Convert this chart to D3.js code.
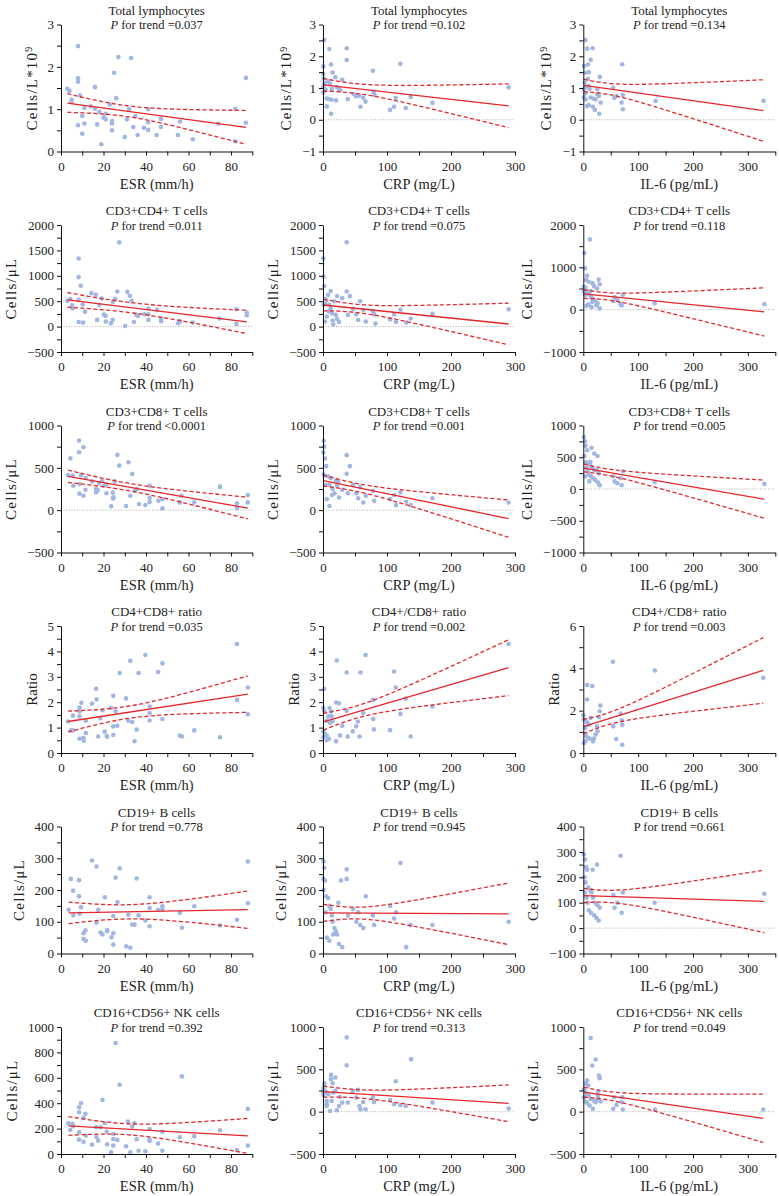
<!DOCTYPE html>
<html>
<head>
<meta charset="utf-8">
<script src="https://cdn.jsdelivr.net/npm/d3@7"></script>
<style>
body { margin: 0; background: #fff; }
svg text { font-family: "Liberation Serif", "Times New Roman", serif; fill: #222; }
</style>
</head>
<body>
<svg id="chart" width="779" height="1196"></svg>
<script>
// ---- text ----
var rowTitles = [
  ["Total lymphocytes", "Total lymphocytes", "Total lymphocytes"],
  ["CD3+CD4+ T cells", "CD3+CD4+ T cells", "CD3+CD4+ T cells"],
  ["CD3+CD8+ T cells", "CD3+CD8+ T cells", "CD3+CD8+ T cells"],
  ["CD4+CD8+ ratio", "CD4+/CD8+ ratio", "CD4+/CD8+ ratio"],
  ["CD19+ B cells", "CD19+ B cells", "CD19+ B cells"],
  ["CD16+CD56+ NK cells", "CD16+CD56+ NK cells", "CD16+CD56+ NK cells"]
];
var pTrend = [
  ["=0.037", "=0.102", "=0.134"],
  ["=0.011", "=0.075", "=0.118"],
  ["<0.0001", "=0.001", "=0.005"],
  ["=0.035", "=0.002", "=0.003"],
  ["=0.778", "=0.945", "=0.661"],
  ["=0.392", "=0.313", "=0.049"]
];
var yTitles = ["Cells/L*10", "Cells/\u03bcL", "Cells/\u03bcL", "Ratio", "Cells/\u03bcL", "Cells/\u03bcL"];
var xTitles = ["ESR (mm/h)", "CRP (mg/L)", "IL-6 (pg/mL)"];

// ---- axes ----
var xDomains = [[0, 90], [0, 300], [0, 350]];
var xMajor = [20, 100, 100];
var yDomains = [
  [[0, 3], [-1, 3], [-1, 3]],
  [[-500, 2000], [-500, 2000], [-1000, 2000]],
  [[-500, 1000], [-500, 1000], [-1000, 1000]],
  [[0, 5], [0, 5], [0, 6]],
  [[0, 400], [0, 400], [-100, 400]],
  [[0, 1000], [-500, 1000], [-500, 1000]]
];
var yMajor = [[1, 1, 1], [500, 500, 1000], [500, 500, 500], [1, 1, 2], [100, 100, 100], [200, 500, 500]];

// ---- points [x, y] ----
var ptsLymphEsr = [[3,1.48],[4,1.43],[5,1.22],[5,1.17],[8,2.49],[8,1.73],[8,1.69],[8,1.65],[8,0.62],[9,1.32],[10,0.84],[10,0.42],[11,1.03],[11,0.66],[14,1.07],[16,1.52],[16,1.01],[17,0.64],[18,0.94],[19,0.17],[20,0.8],[21,0.76],[21,0.89],[23,1.11],[24,0.72],[24,0.66],[24,0.5],[25,1.86],[26,1.26],[27,2.23],[30,0.34],[31,0.76],[32,1.0],[33,2.21],[34,0.58],[35,0.84],[36,0.39],[39,0.56],[41,1.0],[41,0.69],[41,0.51],[45,0.39],[47,0.77],[47,0.58],[55,0.39],[56,0.71],[62,0.29],[74,0.66],[82,1.01],[82,0.24],[87,1.74],[87,0.68]];
var ptsLymphCrp = [[2,2.51],[10,2.23],[0.5,1.68],[12.6,1.74],[15,1.49],[0.5,1.45],[19.4,1.34],[30,1.26],[37,2.25],[37,1.88],[3,1.16],[8.4,1.21],[11,1.14],[0.5,1.03],[0.5,0.86],[13.6,0.97],[21.5,1.03],[25,0.97],[26.7,0.93],[5.8,0.67],[9.4,0.65],[13.6,0.63],[20.4,0.61],[5.8,0.42],[12.6,0.19],[38.7,0.65],[47.6,0.81],[51.8,0.74],[56.5,0.76],[58.6,0.41],[62.8,0.69],[66.5,0.57],[78,1.54],[79,0.86],[80.6,0.78],[104.7,0.31],[111,0.41],[113.6,0.69],[121,1.76],[129.3,0.37],[137,0.72],[171,0.53],[290,1.02],[1,1.3],[2,1.12],[4,0.95]];
var ptsLymphIl6 = [[4,2.51],[7,2.24],[1,1.69],[8.5,1.74],[17,2.25],[13.4,1.89],[10,1.5],[8.5,1.29],[30,1.35],[3,1.48],[2.4,1.17],[4,1.04],[1,0.96],[4,0.83],[1,0.7],[4,0.64],[9,1.06],[11.5,0.98],[7,0.43],[10,0.46],[13.4,0.7],[17.6,0.41],[21,0.31],[19.4,0.66],[22.5,0.64],[25.5,0.96],[25.5,0.8],[28.5,0.75],[29,0.19],[31.6,0.54],[54.6,1.01],[56.5,0.69],[60.7,0.75],[69.8,0.54],[71,1.75],[72,0.78],[72,0.33],[131.8,0.59],[328.5,0.6]];

var ptsCd4Esr = [[3,507],[4.4,540],[5.2,421],[5.4,355],[8.3,1342],[8.3,974],[8.3,526],[8.3,92],[9.3,803],[10.2,434],[10.4,79],[11.3,290],[14.3,658],[16.4,625],[17,132],[18,428],[19.2,553],[20.2,237],[21,210],[21.1,99],[23.5,66],[24.3,132],[24.4,487],[25.5,546],[26.5,691],[27.4,1658],[30.2,13],[31.2,684],[32.4,605],[33.2,507],[34.3,92],[35.3,237],[36.2,211],[39.2,243],[41.1,355],[41.1,243],[41.1,132],[45.2,329],[47.1,158],[47.1,105],[55.1,66],[56,105],[62,79],[74.5,158],[82.5,342],[82.5,53],[87.4,276],[87.4,224]];
var ptsCd4Crp = [[0.5,1340],[1,980],[2,800],[3,540],[5,520],[1,430],[8,620],[10,430],[12,355],[12,700],[14,260],[15,120],[18,500],[20,230],[22,150],[25,90],[30,560],[37,1660],[37,690],[39,230],[42,600],[47,350],[52,240],[55,130],[58,500],[63,330],[67,100],[78,300],[80,240],[82,60],[105,140],[111,240],[114,90],[121,330],[130,80],[137,160],[171,250],[290,340],[3,100],[6,200],[9,300],[4,440],[16,40],[22,600]];
var ptsCd4Il6 = [[2,1340],[12,1660],[3,980],[7,800],[5,700],[10,660],[17,620],[20,550],[25,500],[28,710],[30,600],[1,540],[4,520],[8,430],[11,360],[14,300],[18,250],[22,200],[26,150],[9,120],[6,90],[15,60],[30,30],[1,430],[3,350],[13,440],[16,180],[24,100],[55,200],[57,300],[62,240],[68,130],[70,100],[72,350],[130,150],[330,130]];

var ptsCd8Esr = [[3.3,416],[4.4,613],[5.5,408],[5.8,289],[8.5,822],[8.5,684],[8.7,309],[8.7,195],[9.4,412],[10.6,743],[10.6,171],[11.5,242],[11.6,380],[14.6,340],[16.5,211],[16.5,250],[17.3,238],[18,320],[19.4,348],[20.3,289],[21.3,305],[21.4,199],[23.6,45],[24.4,207],[24.5,139],[24.7,151],[25.3,340],[26.5,653],[27.4,526],[30.6,49],[31.7,566],[32.6,171],[33.5,428],[34.8,230],[35.7,250],[36.7,72],[39.7,61],[41.7,289],[41.7,143],[41.7,95],[45.8,111],[47.7,21],[47.7,130],[55.9,92],[56.7,171],[62.7,92],[74.8,278],[82.8,80],[82.8,25],[87.9,179],[87.9,92]];
var ptsCd8Crp = [[1,820],[2,750],[0.5,680],[3,610],[5,520],[1,420],[2,410],[8,400],[10,300],[12,380],[15,250],[18,200],[20,350],[22,290],[25,150],[30,240],[37,650],[37,430],[39,200],[42,520],[47,300],[52,200],[55,140],[58,270],[63,90],[67,170],[78,230],[80,110],[105,130],[111,180],[114,60],[121,210],[130,100],[137,60],[171,140],[290,90],[6,130],[10,50],[14,180],[24,330],[4,300]];
var ptsCd8Il6 = [[1,820],[3,750],[4,680],[7,610],[2,520],[5,420],[9,400],[12,380],[16,340],[20,300],[25,290],[28,250],[10,230],[14,200],[18,170],[22,140],[27,100],[30,60],[6,330],[8,280],[3,200],[11,120],[55,200],[57,120],[62,90],[68,170],[70,60],[72,280],[130,110],[330,80],[15,650],[20,560],[26,520],[13,430]];

var ptsRatioEsr = [[3.3,1.24],[4.7,0.89],[5.6,1.47],[5.6,0.89],[8.7,1.79],[8.7,1.64],[8.7,1.44],[8.7,0.56],[9.6,1.98],[10.5,0.6],[10.7,0.48],[11.7,1.27],[11.7,0.79],[14.6,1.95],[16.5,2.53],[16.7,2.11],[17.5,0.65],[18.5,1.37],[19.5,1.68],[20.6,0.84],[21.5,0.67],[21.7,0.64],[23.6,1.77],[24.6,2.25],[24.6,1.05],[24.6,0.71],[25.7,1.64],[26.5,1.07],[27.6,3.15],[30.6,2.15],[31.7,1.27],[32.6,3.63],[33.5,1.22],[34.6,0.46],[35.6,0.92],[36.5,3.15],[39.7,3.86],[41.7,1.83],[41.7,1.57],[41.7,1.28],[45.7,3.19],[47.7,3.53],[47.7,1.34],[55.9,0.69],[56.9,0.65],[62.7,0.89],[74.8,0.62],[82.8,4.29],[82.8,2.09],[87.9,2.58],[87.9,1.53]];
var ptsRatioCrp = [[2,2.53],[0.5,1.77],[2,1.64],[0.5,0.85],[0.5,0.62],[3,0.75],[5.8,1.27],[8.4,1.44],[11,1.18],[10,1.77],[12.6,1.64],[13.6,1.44],[15,1.24],[5.8,0.69],[5.8,0.5],[9.4,0.56],[20.4,1.99],[21.5,3.64],[20.4,0.46],[25,1.96],[26.7,0.69],[30,1.07],[37,3.17],[37,1.66],[38.7,0.65],[46.6,0.85],[51.8,1.05],[54.5,1.24],[57,0.65],[58.6,3.17],[62.8,1.57],[66.5,3.86],[78,2.09],[78.5,1.34],[79.6,0.93],[104.7,0.9],[111,3.21],[113.6,2.58],[121,1.54],[129.3,2.14],[137,0.65],[171,1.83],[290,4.29]];
var ptsRatioIl6 = [[0,1.78],[1,1.58],[3,1.18],[1,0.47],[4,0.55],[7,2.53],[7,3.21],[16.4,3.16],[7,1.45],[10,1.34],[5.5,0.79],[9,0.71],[11.5,0.68],[4,0.9],[13.4,1.66],[17.6,0.55],[19.4,0.68],[22.5,0.87],[26,1.03],[28.5,1.69],[29.8,1.97],[31,2.24],[25,1.26],[54,4.31],[54.6,1.26],[60,0.66],[68,1.86],[70,1.55],[71,1.34],[71,0.39],[130.5,3.9],[328,3.55]];

var ptsCd19Esr = [[3.6,138],[4.6,235],[5.7,198],[5.8,120],[8.5,231],[8.5,180],[8.7,125],[9.4,146],[10.6,64],[10.6,46],[11.5,73],[11.7,40],[14.6,293],[16.7,274],[16.7,97],[17.5,138],[18.6,66],[19.5,60],[20.6,177],[21.7,74],[21.7,70],[23.8,51],[24.6,118],[24.6,64],[24.6,28],[25.7,239],[26.6,162],[27.6,268],[30.7,23],[31.7,122],[32.6,18],[33.5,91],[34.6,91],[35.6,236],[36.5,120],[39.7,104],[41.7,177],[41.7,143],[41.7,86],[45.7,137],[47.7,149],[47.7,139],[55.9,128],[56.9,81],[62.7,149],[74.8,88],[82.8,106],[87.9,290],[87.9,158]];
var ptsCd19Crp = [[1,290],[2,270],[0.5,235],[3,230],[1,200],[5,180],[8,175],[10,150],[12,140],[14,120],[15,100],[18,80],[20,70],[22,60],[6,50],[10,40],[25,30],[30,20],[37,265],[37,235],[39,120],[47,140],[52,100],[55,130],[58,90],[63,80],[67,180],[78,120],[80,90],[105,150],[111,110],[114,130],[121,285],[130,20],[137,90],[171,90],[290,100],[4,130],[16,60],[24,160],[28,230]];
var ptsCd19Il6 = [[1,290],[3,270],[5,240],[7,230],[2,200],[4,180],[9,160],[12,150],[15,140],[18,120],[22,100],[26,90],[30,80],[10,70],[14,60],[20,50],[24,40],[28,30],[6,120],[8,100],[3,140],[55,130],[57,80],[62,100],[68,285],[70,60],[72,140],[130,100],[330,135],[17,230],[25,250]];

var ptsNkEsr = [[3.5,242],[4.4,189],[5.4,237],[5.7,218],[8.5,368],[8.5,329],[8.5,171],[8.5,113],[9.4,400],[10.6,284],[10.6,97],[11.5,316],[11.7,145],[14.6,74],[16.5,211],[16.7,134],[17.5,105],[18.6,211],[19.5,426],[20.6,242],[21.5,176],[21.7,76],[23.6,13],[24.6,158],[24.6,118],[24.6,66],[25.7,874],[26.5,111],[27.6,545],[30.6,61],[31.5,255],[32.6,13],[33.5,216],[34.6,242],[35.6,116],[36.5,26],[39.7,21],[41.7,197],[41.7,113],[41.7,103],[45.7,82],[47.7,176],[47.7,26],[55.9,132],[56.9,611],[62.7,139],[74.8,187],[82.8,32],[87.9,355],[87.9,66]];
var ptsNkCrp = [[37,877],[37,549],[137.7,620],[113.6,359],[12.6,434],[12.6,383],[19.4,403],[2,336],[2,312],[0.5,272],[0.5,225],[0.5,194],[3,245],[5.8,225],[5.8,126],[5.8,87],[5.8,67],[8.4,205],[11,8],[13.6,126],[15,336],[16,225],[19.4,245],[21.5,16],[25,67],[26.7,174],[30,107],[38.7,107],[46.6,245],[51.8,166],[54.5,257],[57,67],[58.6,28],[62.8,115],[66.5,28],[78,166],[79.6,115],[104.7,138],[111,87],[121,75],[129.3,67],[171,107],[290,36]];
var ptsNkIl6 = [[13.4,870],[16.4,546],[22.5,617],[28.5,427],[29.8,396],[7,368],[4,329],[9,309],[1,262],[4,230],[7,199],[10,191],[1,171],[4,120],[7,104],[11.5,72],[17.6,33],[27,238],[26,191],[27,159],[19.4,131],[22.5,112],[25,143],[31.6,120],[13.4,151],[56,171],[54.6,33],[60.7,80],[69.8,112],[71,171],[72,25],[130.5,25],[328,25]];

// ---- fitted line: [y at min x, y at max x, CI half-width at min x, at max x] ----
var fitLymphEsr = [1.145, 0.57, 0.22, 0.40];
var fitLymphCrp = [1.10, 0.44, 0.20, 0.69];
var fitLymphIl6 = [1.08, 0.29, 0.20, 0.97];
var fitCd4Esr = [526, 92, 145, 230];
var fitCd4Crp = [425, 51, 115, 410];
var fitCd4Il6 = [371, -54, 105, 570];
var fitCd8Esr = [400, 25, 73, 128];
var fitCd8Crp = [350, -100, 65, 220];
var fitCd8Il6 = [330, -160, 60, 300];
var fitRatioEsr = [1.24, 2.32, 0.41, 0.72];
var fitRatioCrp = [1.23, 3.36, 0.33, 1.10];
var fitRatioIl6 = [1.25, 3.90, 0.34, 1.55];
var fitCd19Esr = [128, 138, 34, 59];
var fitCd19Crp = [128, 125, 27, 97];
var fitCd19Il6 = [128, 105, 28, 123];
var fitNkEsr = [221, 142, 74, 138];
var fitNkCrp = [237, 99, 65, 217];
var fitNkIl6 = [230, -78, 60, 286];

var panelPts = [
  [ptsLymphEsr, ptsLymphCrp, ptsLymphIl6],
  [ptsCd4Esr, ptsCd4Crp, ptsCd4Il6],
  [ptsCd8Esr, ptsCd8Crp, ptsCd8Il6],
  [ptsRatioEsr, ptsRatioCrp, ptsRatioIl6],
  [ptsCd19Esr, ptsCd19Crp, ptsCd19Il6],
  [ptsNkEsr, ptsNkCrp, ptsNkIl6]
];
var panelFits = [
  [fitLymphEsr, fitLymphCrp, fitLymphIl6],
  [fitCd4Esr, fitCd4Crp, fitCd4Il6],
  [fitCd8Esr, fitCd8Crp, fitCd8Il6],
  [fitRatioEsr, fitRatioCrp, fitRatioIl6],
  [fitCd19Esr, fitCd19Crp, fitCd19Il6],
  [fitNkEsr, fitNkCrp, fitNkIl6]
];

var svg = d3.select("#chart");
var colRange = [[61, 252.3], [323, 515], [583.3, 775.3]];
var plotH = 127;
var red = "#e5262b";

function drawPanel(r, c) {
  var g = svg.append("g");
  var top = 24.5 + 200.5 * r, bottom = top + plotH;
  var xd = xDomains[c], yd = yDomains[r][c];
  var x = d3.scaleLinear().domain(xd).range(colRange[c]);
  var y = d3.scaleLinear().domain(yd).range([bottom, top]);
  var pts = panelPts[r][c], fit = panelFits[r][c];

  if (yd[0] < 0) {
    g.append("line")
      .attr("x1", x(xd[0])).attr("x2", x(xd[1]))
      .attr("y1", y(0)).attr("y2", y(0))
      .attr("stroke", "#9a9a9a").attr("stroke-width", 0.8)
      .attr("stroke-dasharray", "1,1.6");
  }

  g.append("g").selectAll("circle").data(pts).enter().append("circle")
    .attr("cx", function(d) { return x(d[0]); })
    .attr("cy", function(d) { return y(d[1]); })
    .attr("r", 2.3)
    .attr("fill", "#a3b6e2");

  // regression line + 95% band
  var x0 = d3.min(pts, function(d) { return d[0]; });
  var x1 = d3.max(pts, function(d) { return d[0]; });
  var m = d3.mean(pts, function(d) { return d[0]; });
  var B = (fit[3] * fit[3] - fit[2] * fit[2]) / ((x1 - m) * (x1 - m) - (x0 - m) * (x0 - m));
  if (B < 0) B = 0;
  var A = Math.max(fit[2] * fit[2] - B * (x0 - m) * (x0 - m), 0);
  var xs = d3.range(0, 61).map(function(i) { return x0 + (x1 - x0) * i / 60; });
  function fy(v) { return fit[0] + (fit[1] - fit[0]) * (v - x0) / (x1 - x0); }
  function hw(v) { return Math.sqrt(A + B * (v - m) * (v - m)); }
  var line = d3.line().x(function(d) { return x(d[0]); }).y(function(d) { return y(d[1]); });

  g.append("path").attr("d", line([[x0, fy(x0)], [x1, fy(x1)]]))
    .attr("fill", "none").attr("stroke", red).attr("stroke-width", 1.3);
  [1, -1].forEach(function(s) {
    g.append("path").attr("d", line(xs.map(function(v) { return [v, fy(v) + s * hw(v)]; })))
      .attr("fill", "none").attr("stroke", red).attr("stroke-width", 1.3)
      .attr("stroke-dasharray", "4,2.5");
  });

  // axes
  var xStep = xMajor[c];
  var xAxis = d3.axisBottom(x)
    .tickValues(d3.range(xd[0], xd[1] + 0.001, xStep / 2))
    .tickFormat(function(d) { return d % xStep === 0 ? d : ""; })
    .tickSize(4).tickSizeOuter(0).tickPadding(6);
  var gx = g.append("g").attr("transform", "translate(0," + bottom + ")").call(xAxis);

  var yStep = yMajor[r][c];
  var yAxis = d3.axisLeft(y)
    .tickValues(d3.range(yd[0], yd[1] + 0.001, yStep / 2))
    .tickFormat(function(d) { return Math.abs(d % yStep) < 1e-9 ? d3.format("")(d) : ""; })
    .tickSize(4).tickSizeOuter(0).tickPadding(3);
  var gy = g.append("g").attr("transform", "translate(" + colRange[c][0] + ",0)").call(yAxis);

  [gx, gy].forEach(function(a) {
    a.selectAll("text").style("font-size", "13px").attr("fill", "#222");
    a.selectAll("line, path").attr("stroke", "#111").attr("stroke-width", 1);
  });

  // titles
  var cx = (colRange[c][0] + colRange[c][1]) / 2;
  g.append("text").attr("x", cx).attr("y", top - 10).attr("text-anchor", "middle")
    .style("font-size", "13px").text(rowTitles[r][c]);
  var t2 = g.append("text").attr("x", cx).attr("y", top + 4.5).attr("text-anchor", "middle")
    .style("font-size", "12.5px");
  t2.append("tspan").style("font-style", (r === 4 && c === 2) ? "normal" : "italic").text("P");
  t2.append("tspan").text(" for trend " + pTrend[r][c]);

  g.append("text").attr("x", cx).attr("y", bottom + 37).attr("text-anchor", "middle")
    .style("font-size", "14.5px").text(xTitles[c]);

  var bb = gy.node().getBBox();
  var xb = colRange[c][0] + bb.x - 11;
  var yt = g.append("text")
    .attr("transform", "translate(" + xb + "," + (top + plotH / 2) + ") rotate(-90)")
    .attr("text-anchor", "middle").style("font-size", "15px")
    .style("letter-spacing", yTitles[r] === "Ratio" ? "0px" : "1.2px")
    .text(yTitles[r]);
  if (r === 0) {
    yt.append("tspan").attr("dy", "-0.45em").style("font-size", "10px").text("9");
  }
}

for (var r = 0; r < 6; r++) {
  for (var c = 0; c < 3; c++) drawPanel(r, c);
}
</script>
</body>
</html>
